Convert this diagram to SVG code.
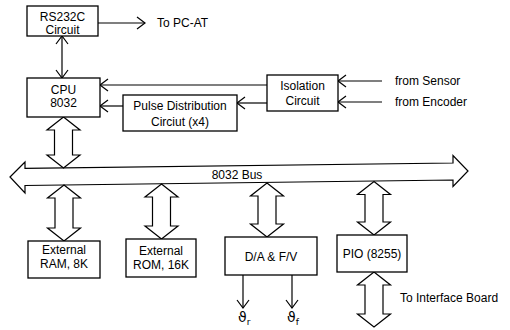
<svg xmlns="http://www.w3.org/2000/svg" width="510" height="330" viewBox="0 0 510 330">
<defs>
<style>
.box{fill:#fff;stroke:#000;stroke-width:1.3}
.ln{fill:none;stroke:#000;stroke-width:1.2}
.big{fill:#fff;stroke:#000;stroke-width:1.2;stroke-linejoin:miter}
text{font-family:"Liberation Sans",Arial,sans-serif;font-size:12px;fill:#000}
.c{text-anchor:middle}
.sym{font-family:"DejaVu Sans",sans-serif;font-size:14px}
</style>
<marker id="ah" viewBox="-10 -8 12 16" markerWidth="12" markerHeight="16" refX="0" refY="0" orient="auto-start-reverse" markerUnits="userSpaceOnUse">
<path d="M-8,-6 L0,0 L-8,6" fill="none" stroke="#000" stroke-width="1.2"/>
</marker>
</defs>
<rect width="510" height="330" fill="#fff"/>
<g id="connectors">
<line class="ln" x1="98" y1="23" x2="145" y2="23" marker-end="url(#ah)"/>
<line class="ln" x1="62" y1="36" x2="62" y2="78" marker-start="url(#ah)" marker-end="url(#ah)"/>
<line class="ln" x1="267" y1="85" x2="100" y2="85" marker-end="url(#ah)"/>
<line class="ln" x1="267" y1="103" x2="237" y2="103" marker-end="url(#ah)"/>
<line class="ln" x1="123" y1="106" x2="100" y2="106" marker-end="url(#ah)"/>
<line class="ln" x1="382" y1="81" x2="338" y2="81" marker-end="url(#ah)"/>
<line class="ln" x1="382" y1="102" x2="338" y2="102" marker-end="url(#ah)"/>
<line class="ln" x1="243" y1="275" x2="243" y2="308" marker-end="url(#ah)"/>
<line class="ln" x1="292" y1="275" x2="292" y2="308" marker-end="url(#ah)"/>
<polygon id="bus" class="big" points="10,177 25,162 25,168.3 453,163 453,155.5 468,171 453,186.5 453,180 25,185.5 25,193"/>
<polygon class="big" points="63.5,117 80,130 72.5,130 72.5,155 80,155 63.5,168 47,155 54.5,155 54.5,130 47,130"/>
<polygon class="big" points="64,185 80.5,198 73,198 73,228 80.5,228 64,241 47.5,228 55,228 55,198 47.5,198"/>
<polygon class="big" points="161.5,184 178,197 170.5,197 170.5,226 178,226 161.5,239 145,226 152.5,226 152.5,197 145,197"/>
<polygon class="big" points="267,183 283.5,196 276,196 276,224 283.5,224 267,237 250.5,224 258,224 258,196 250.5,196"/>
<polygon class="big" points="374,181.5 390.5,194.5 383,194.5 383,222 390.5,222 374,235 357.5,222 365,222 365,194.5 357.5,194.5"/>
<polygon class="big" points="374,272 390.5,285 383,285 383,314 390.5,314 374,327 357.5,314 365,314 365,285 357.5,285"/>
</g>
<text class="c" x="237" y="179">8032 Bus</text>
<text x="157" y="27">To PC-AT</text>
<text x="395" y="85">from Sensor</text>
<text x="395" y="106">from Encoder</text>
<text x="400" y="302">To Interface Board</text>
<text class="sym" x="238" y="322">ϑ<tspan font-size="9" dy="3">r</tspan></text>
<text class="sym" x="287" y="322">ϑ<tspan font-size="9" dy="3">f</tspan></text>
<g id="rs232c"><rect class="box" x="27" y="6" width="71" height="30"/><text class="c" x="62.5" y="21">RS232C</text><text class="c" x="62.5" y="33.5">Circuit</text></g>
<g id="cpu"><rect class="box" x="27" y="78" width="73" height="39"/><text class="c" x="63.5" y="94">CPU</text><text class="c" x="63.5" y="107">8032</text></g>
<g id="pulse"><rect class="box" x="123" y="95" width="114" height="36"/><text class="c" x="180" y="110">Pulse Distribution</text><text class="c" x="180" y="126">Circiut (x4)</text></g>
<g id="isolation"><rect class="box" x="267" y="75" width="71" height="36"/><text class="c" x="302.5" y="90">Isolation</text><text class="c" x="302.5" y="105">Circuit</text></g>
<g id="ram"><rect class="box" x="28" y="241" width="72" height="37"/><text class="c" x="64" y="254">External</text><text class="c" x="64" y="268">RAM, 8K</text></g>
<g id="rom"><rect class="box" x="126" y="239" width="70" height="38"/><text class="c" x="161" y="255">External</text><text class="c" x="161" y="269">ROM, 16K</text></g>
<g id="da"><rect class="box" x="225" y="237" width="92" height="38"/><text class="c" x="271" y="261">D/A &amp; F/V</text></g>
<g id="pio"><rect class="box" x="337" y="235" width="70" height="37"/><text class="c" x="372" y="258">PIO (8255)</text></g>
</svg>
